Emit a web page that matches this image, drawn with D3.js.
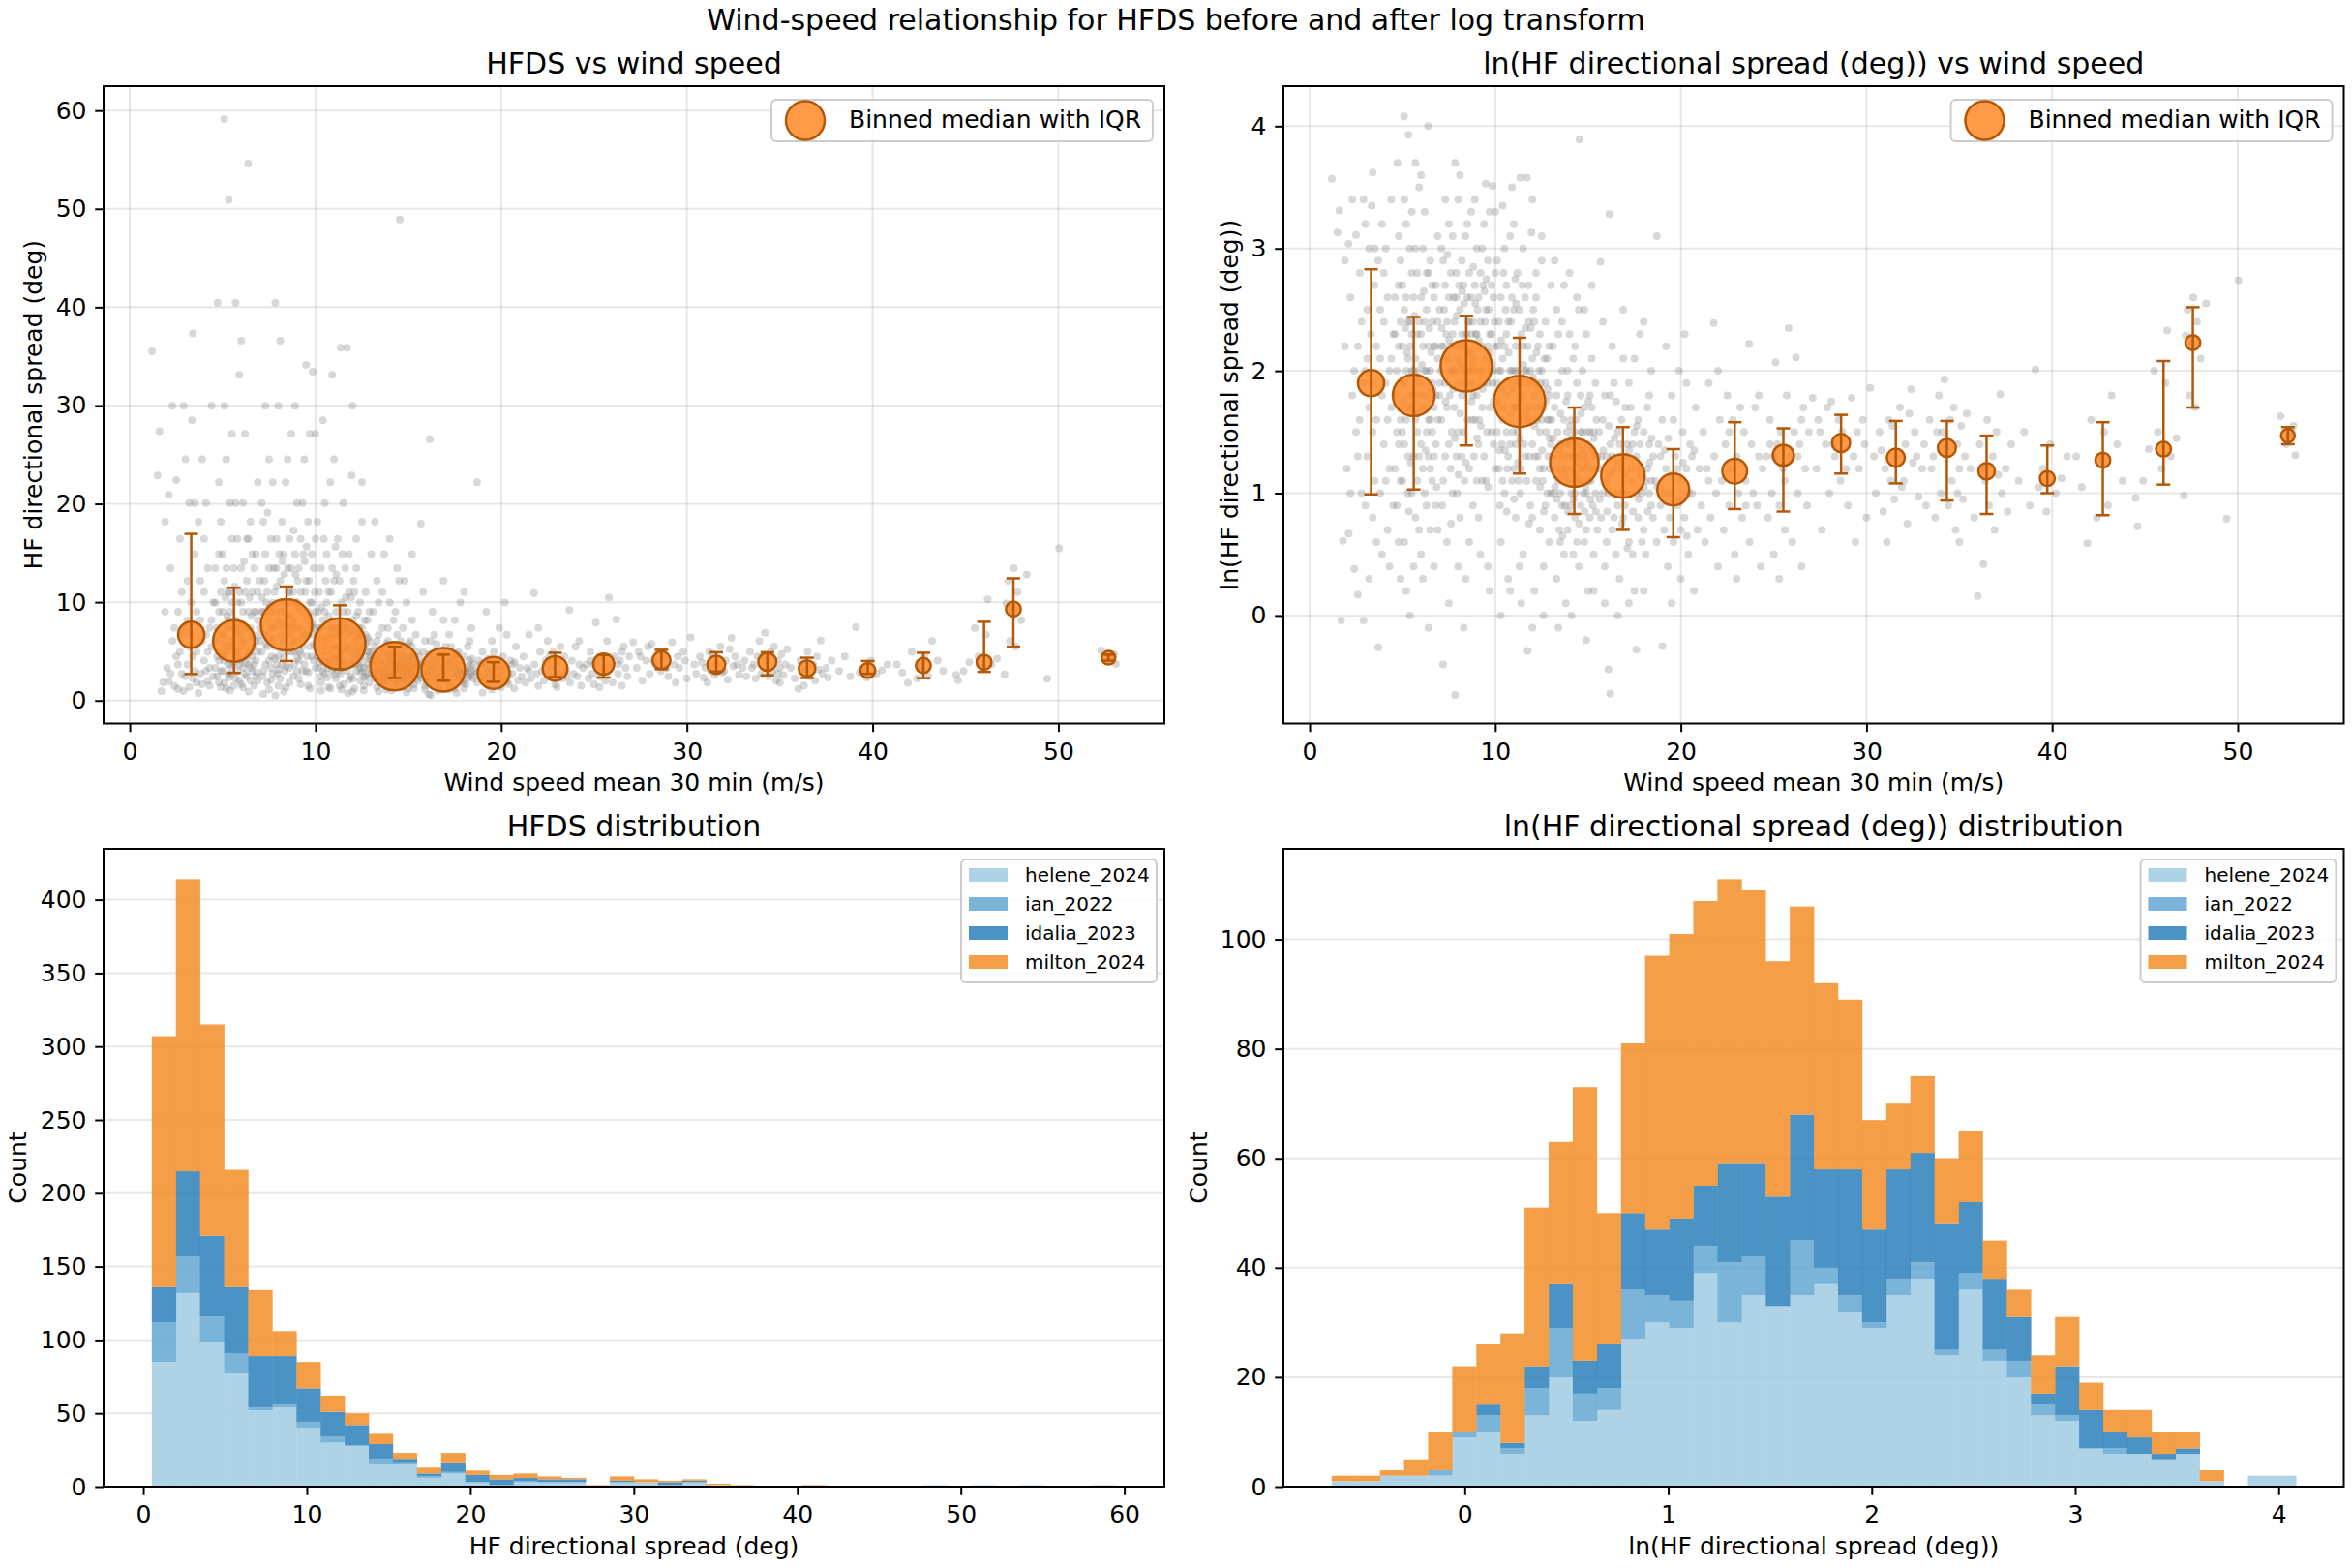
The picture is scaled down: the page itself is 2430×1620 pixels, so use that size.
<!DOCTYPE html>
<html>
<head>
<meta charset="utf-8">
<script src="https://cdn.jsdelivr.net/npm/d3@7"></script>
<style>
body { margin: 0; background: #fff; }
text { font-family: "DejaVu Sans", sans-serif; }
</style>
</head>
<body>
<div id="chart"></div>
<script>

// binned medians (in ln units)
var binWind   = [3.31, 5.61, 8.44, 11.31, 14.26, 16.88, 19.59, 22.90, 25.52, 28.63, 31.58, 34.33, 36.47, 39.74, 42.73, 46.0, 47.58, 52.7];
var binMedLn  = [1.90, 1.80, 2.04, 1.75, 1.25, 1.14, 1.03, 1.18, 1.31, 1.41, 1.29, 1.37, 1.18, 1.12, 1.27, 1.36, 2.23, 1.47];
var binLoLn   = [0.99, 1.03, 1.39, 1.16, 0.83, 0.70, 0.64, 0.87, 0.85, 1.16, 1.08, 0.94, 0.83, 1.00, 0.82, 1.07, 1.70, 1.40];
var binHiLn   = [2.83, 2.44, 2.45, 2.27, 1.70, 1.54, 1.36, 1.58, 1.53, 1.64, 1.59, 1.59, 1.47, 1.39, 1.58, 2.08, 2.52, 1.54];
var binCount  = [74, 216, 338, 338, 299, 238, 119, 64, 41, 25, 25, 25, 18, 11, 11, 11, 11, 6];

// scatter cloud: [wind speed, ln(spread)]
var cloudPoints = [
[1.2,3.57],[1.5,3.13],[1.6,3.31],[1.7,-0.04],[1.8,0.61],[1.9,2.9],[2.0,1.2],[2.1,0.67],[2.1,3.04],[2.2,2.6],[2.3,1.8],[2.4,0.38],[2.5,3.11],[2.5,1.5],[2.6,0.17],[2.6,2.2],[2.7,2.8],[2.8,1.0],[2.9,-0.04],[2.9,3.4],[3.0,2.0],[3.0,0.9],[3.1,2.5],[3.1,1.3],[3.2,3.0],[3.2,0.3],[3.3,1.9],[3.3,2.3],[3.35,3.35],[3.4,3.62],[3.4,0.8],[3.5,1.1],[3.5,2.7],[3.6,1.6],[3.7,-0.26],[3.7,2.9],[3.8,2.1],[3.8,1.0],[3.9,3.2],[3.9,0.5],[4.0,2.4],[4.0,1.4],[4.1,1.9],[4.1,3.0],[4.2,0.7],[4.2,2.6],[4.3,1.2],[4.3,2.0],[4.4,3.4],[4.4,1.7],[4.5,0.9],[4.5,2.3],[2.4,2.0],[2.7,1.6],[3.0,3.2],[3.6,2.2],[4.0,2.8],[2.2,1.0],[3.4,1.5],[3.8,2.5],[4.3,0.4],[2.8,2.4],[3.2,1.7],[3.6,0.6],[4.1,1.1],[1.9,2.2],[2.3,3.4],[2.6,1.3],[3.1,2.1],[3.9,1.8],[4.4,2.1],[3.5,3.0],[4.2,1.6],[2.9,1.9],
[4.6,1.8],[4.6,2.6],[4.7,0.9],[4.73,3.7],[4.8,1.4],[4.8,2.2],[4.9,0.3],[4.9,2.9],[5.0,1.1],[5.0,1.9],[5.09,4.08],[5.1,2.5],[5.1,0.6],[5.2,1.6],[5.2,3.2],[5.3,2.1],[5.33,3.93],[5.3,1.0],[5.4,2.4],[5.4,0.0],[5.5,1.7],[5.5,2.8],[5.6,1.3],[5.6,2.0],[5.7,3.0],[5.7,0.8],[5.8,2.3],[5.8,1.5],[5.9,3.5],[5.9,1.9],[6.0,0.5],[6.0,2.6],[6.1,1.2],[6.1,2.2],[6.2,1.8],[6.2,3.3],[6.3,0.9],[6.3,2.5],[6.38,4.0],[6.4,1.6],[6.4,-0.1],[6.5,2.0],[6.5,2.9],[6.6,1.1],[6.6,2.4],[6.7,0.4],[6.7,1.7],[6.8,2.7],[6.8,1.4],[6.9,2.1],[6.9,0.7],[7.0,1.9],[4.6,1.2],[4.7,2.0],[4.8,3.1],[4.9,1.6],[5.0,2.7],[5.1,1.4],[5.2,0.2],[5.3,2.4],[5.4,1.8],[5.5,1.0],[5.6,2.6],[5.7,1.6],[5.8,2.0],[5.9,0.7],[6.0,1.4],[6.1,3.0],[6.2,2.4],[6.3,1.5],[6.4,2.2],[6.5,1.2],[6.6,1.9],[6.7,2.6],[6.8,0.9],[6.9,2.4],[4.6,2.3],[4.8,0.6],[5.0,2.2],[5.2,2.0],[5.4,3.0],[5.6,0.4],[5.8,2.8],[6.0,1.8],[6.2,1.0],[6.4,2.8],[6.6,1.5],[6.8,2.2],[4.7,1.5],[4.9,2.4],[5.1,1.9],[5.3,1.3],[5.5,2.3],[5.7,2.1],[5.9,1.3],[6.1,1.7],[6.3,2.0],[6.5,0.7],[6.7,2.2],[6.9,1.6],[5.0,1.5],[5.5,2.0],[6.0,2.3],[6.5,1.6],[5.2,2.6],[5.8,1.1],[6.3,2.8],[6.8,1.8],[4.9,1.1],[5.4,2.2],[6.1,0.3],[6.6,2.7],[5.6,1.8],[6.2,2.0],[4.8,2.7],[5.9,2.4],[6.4,1.3],[5.3,1.7],[6.7,1.3],[5.1,3.4],[6.0,3.6],[5.7,3.7],[5.5,3.3],[6.9,3.1],
[5.05,1.75],[5.25,2.15],[5.45,1.25],[5.65,2.45],[5.85,1.65],[6.05,2.05],[6.25,1.35],[6.45,2.35],[6.65,1.85],[6.85,1.05],[5.15,2.35],[5.35,0.85],[5.75,1.95],[6.15,2.65],[6.55,2.15],
[7.0,2.5],[7.1,1.6],[7.1,3.0],[7.19,-0.4],[7.2,2.2],[7.2,1.1],[7.3,2.7],[7.3,1.9],[7.4,0.6],[7.4,2.4],[7.5,3.2],[7.5,1.4],[7.6,2.0],[7.6,2.8],[7.7,1.0],[7.7,2.3],[7.8,1.7],[7.84,3.7],[7.84,-0.65],[7.9,2.6],[7.9,1.3],[8.0,2.1],[8.0,3.4],[8.1,0.8],[8.1,2.5],[8.2,1.8],[8.2,2.9],[8.3,2.2],[8.3,1.5],[8.4,3.1],[8.4,0.3],[8.5,2.0],[8.5,2.6],[8.6,1.2],[8.6,2.4],[8.7,3.3],[8.7,1.9],[8.8,2.1],[8.8,0.9],[8.9,2.7],[8.9,1.6],[9.0,2.3],[9.0,3.0],[9.1,1.4],[9.1,2.0],[9.2,2.8],[9.2,0.5],[9.3,2.2],[9.3,1.7],[9.4,3.2],[9.49,3.53],[9.5,2.5],[9.5,1.1],[9.6,1.9],[9.6,2.9],[9.7,2.3],[9.7,0.2],[9.8,1.5],[9.85,3.51],[9.9,2.6],[9.9,2.0],[10.0,1.2],[10.0,2.8],
[7.0,1.8],[7.2,2.9],[7.4,1.7],[7.6,1.2],[7.8,2.4],[8.0,1.5],[8.2,2.3],[8.4,1.9],[8.6,2.8],[8.8,2.4],[9.0,1.8],[9.2,2.4],[9.4,1.3],[9.6,2.2],[9.8,2.7],[10.0,2.2],
[7.1,2.2],[7.3,1.3],[7.5,2.6],[7.7,2.0],[7.9,2.2],[8.1,1.9],[8.3,2.7],[8.5,1.6],[8.7,2.3],[8.9,2.0],[9.1,2.6],[9.3,1.1],[9.5,2.1],[9.7,1.7],[9.9,1.4],
[7.05,2.0],[7.25,2.5],[7.45,2.1],[7.65,1.5],[7.85,2.0],[8.05,2.7],[8.25,2.0],[8.45,2.3],[8.65,2.0],[8.85,1.3],[9.05,2.5],[9.25,2.0],[9.45,2.4],[9.65,2.5],[9.85,1.9],
[7.15,0.9],[7.35,2.3],[7.55,1.8],[7.75,2.6],[7.95,1.0],[8.15,2.2],[8.35,1.1],[8.55,2.4],[8.75,1.6],[8.95,2.3],[9.15,1.6],[9.35,2.7],[9.55,1.5],[9.75,2.0],[9.95,2.4],
[7.3,3.4],[7.7,3.1],[8.1,3.6],[8.5,3.2],[8.9,3.4],[9.3,3.0],[9.7,3.3],[7.5,0.1],[8.0,0.4],[8.6,0.6],[9.1,0.8],[9.6,0.4],[8.3,-0.1],[7.9,2.8],[8.7,2.6],[9.4,1.9],[8.2,1.3],[9.0,1.1],[7.6,2.2],[8.8,1.8],[9.8,2.3],
[7.12,2.35],[7.32,1.75],[7.52,2.25],[7.72,1.85],[7.92,2.45],[8.12,1.65],[8.32,2.55],[8.52,2.15],[8.72,1.75],[8.92,2.55],[9.12,2.25],[9.32,1.85],[9.52,2.75],[9.72,2.15],[9.92,1.75],[7.42,2.95],[7.82,1.45],[8.22,2.65],[8.62,2.15],[9.02,1.45],[9.42,2.65],[9.82,2.05],[8.42,1.25],[8.82,2.85],[9.22,1.55],[7.62,0.75],[8.02,1.15],[9.62,1.05],[8.18,2.05],[8.78,2.05],
[10.1,1.9],[10.1,2.9],[10.2,1.2],[10.2,2.4],[10.3,0.6],[10.3,2.0],[10.4,3.35],[10.4,1.6],[10.5,2.2],[10.5,1.0],[10.6,2.7],[10.6,1.8],[10.7,0.3],[10.7,2.4],[10.8,1.4],[10.8,3.1],[10.9,2.0],[10.9,1.1],[11.0,2.5],[11.0,1.7],[11.1,0.8],[11.1,2.2],[11.2,1.5],[11.2,2.8],[11.3,1.9],[11.35,3.58],[11.4,1.2],[11.4,2.3],[11.5,0.5],[11.5,1.8],[11.6,2.6],[11.6,1.3],[11.7,3.58],[11.7,2.0],[11.75,-0.29],[11.8,1.6],[11.8,2.4],[11.9,0.9],[11.95,3.13],[12.0,1.4],[12.0,2.1],[12.1,1.8],[12.1,0.2],[12.2,2.6],[12.2,1.1],[12.3,1.7],[12.3,2.2],[12.4,0.7],[12.4,1.5],[12.5,2.0],[12.5,2.9],[12.6,1.2],[12.6,0.4],[12.7,1.9],[12.7,2.4],[12.8,1.0],[12.8,1.6],[12.9,2.2],[12.9,0.6],[13.0,1.4],[13.0,2.7],
[10.1,1.5],[10.3,2.6],[10.5,1.7],[10.7,1.3],[10.9,2.6],[11.1,1.4],[11.3,2.5],[11.5,2.2],[11.7,1.1],[11.9,2.0],[12.1,2.4],[12.3,1.3],[12.5,1.6],[12.7,0.9],[12.9,1.8],
[10.2,2.0],[10.4,1.1],[10.6,2.3],[10.8,2.0],[11.0,1.2],[11.2,2.0],[11.4,1.6],[11.6,2.0],[11.8,1.9],[12.0,0.8],[12.2,1.9],[12.4,2.3],[12.6,1.7],[12.8,2.1],[13.0,1.0],
[10.15,2.2],[10.35,1.4],[10.55,2.5],[10.75,1.9],[10.95,1.5],[11.15,1.9],[11.35,1.0],[11.55,1.4],[11.75,2.2],[11.95,1.7],[12.15,1.3],[12.35,2.0],[12.55,1.1],[12.75,1.5],[12.95,1.2],
[10.25,0.9],[10.45,2.8],[10.65,1.2],[10.85,2.4],[11.05,2.0],[11.25,1.1],[11.45,2.7],[11.65,1.7],[11.85,1.3],[12.05,2.5],[12.25,1.6],[12.45,1.9],[12.65,2.1],[12.85,1.3],
[10.0,3.3],[10.5,3.0],[11.0,3.2],[11.5,3.0],[12.0,3.4],[12.5,3.1],[10.3,0.0],[10.8,0.2],[11.4,0.1],[12.0,-0.1],[12.6,0.0],[10.9,3.5],[11.3,0.4],[12.2,2.8],[10.6,1.5],[11.8,2.7],[12.4,1.2],[10.4,2.1],[11.1,1.7],[12.9,1.6],
[10.12,1.75],[10.32,2.25],[10.52,1.35],[10.72,2.15],[10.92,1.85],[11.12,2.55],[11.32,1.45],[11.52,2.05],[11.72,1.65],[11.92,2.35],[12.12,1.55],[12.32,1.85],[12.52,1.35],[12.72,1.75],[12.92,1.45],[10.42,1.85],[10.82,1.65],[11.22,1.25],[11.62,2.35],[12.02,1.95],[12.42,1.05],[12.82,1.85],[11.02,0.95],[11.82,0.75],[12.62,0.85],[10.62,0.85],[11.42,1.95],[12.22,2.15],[10.22,1.35],[11.08,2.75],
[13.1,1.3],[13.1,2.2],[13.2,0.8],[13.2,1.7],[13.3,0.3],[13.3,2.5],[13.4,1.1],[13.4,1.9],[13.5,0.6],[13.5,1.4],[13.6,2.0],[13.6,0.9],[13.7,1.6],[13.7,2.7],[13.8,1.2],[13.8,0.1],[13.9,1.8],[13.9,0.7],[14.0,1.4],[14.0,2.3],[14.1,1.0],[14.1,1.6],[14.2,0.5],[14.2,2.1],[14.3,1.3],[14.3,0.8],[14.4,1.9],[14.4,1.1],[14.5,2.5],[14.54,3.89],[14.5,0.4],[14.6,1.5],[14.6,0.9],[14.7,1.2],[14.7,2.0],[14.8,0.6],[14.8,1.7],[14.9,1.0],[14.9,2.3],[15.0,1.4],[15.0,0.2],[15.1,1.8],[15.1,0.8],[15.2,1.2],[15.2,2.1],[15.3,0.5],[15.3,1.5],[15.4,1.0],[15.4,1.9],[15.5,1.3],[15.5,0.7],
[13.15,1.0],[13.35,1.5],[13.55,1.2],[13.75,0.9],[13.95,1.3],[14.15,1.2],[14.35,1.6],[14.55,1.3],[14.75,1.0],[14.95,1.5],[15.15,1.1],[15.35,1.3],[13.25,1.2],[13.45,0.7],[13.65,1.3],[13.85,1.5],[14.05,0.9],[14.25,1.5],[14.45,1.4],[14.65,1.1],[14.85,1.3],[15.05,1.1],[15.25,0.9],[15.45,1.6],
[13.2,2.9],[13.6,2.4],[14.0,2.8],[14.4,2.6],[14.8,2.5],[15.2,2.7],[13.4,-0.1],[14.1,0.0],[14.9,-0.2],[15.3,0.2],[13.9,2.0],[14.6,1.8],[13.3,1.8],[15.1,1.5],[14.3,1.0],
[13.05,1.6],[13.5,1.0],[13.8,1.4],[14.2,1.3],[14.7,1.5],[15.0,1.2],[15.4,1.2],[13.7,0.5],[14.4,0.6],[14.9,0.7],[13.4,2.3],[14.3,2.2],[15.2,1.7],[13.9,1.1],[14.6,1.2],
[13.12,1.45],[13.32,0.95],[13.52,1.65],[13.72,1.15],[13.92,0.85],[14.12,1.45],[14.32,1.15],[14.52,0.75],[14.72,1.35],[14.92,1.25],[15.12,0.95],[15.32,1.45],[13.42,1.35],[13.82,1.75],[14.22,0.95],[14.62,1.65],[15.02,1.75],[15.42,0.85],[13.62,0.65],[14.02,1.55],[14.42,1.25],[14.82,0.85],[15.22,1.35],[13.22,1.05],[14.88,1.05],
[15.6,1.2],[15.67,2.89],[15.7,0.8],[15.8,1.6],[15.9,0.4],[16.0,1.1],[16.1,-0.44],[16.15,3.28],[16.2,-0.64],[16.2,1.4],[16.3,0.7],[16.4,1.9],[16.5,1.0],[16.6,1.5],[16.7,0.3],[16.8,1.2],[16.9,2.1],[17.0,0.9],[17.1,1.4],[17.2,0.6],[17.3,1.7],[17.4,1.1],[17.5,0.2],[17.6,-0.28],[17.6,1.3],[17.7,0.8],[17.8,2.3],[17.9,1.0],[18.0,1.5],[18.1,0.5],[18.2,1.2],[18.3,1.8],[18.4,0.9],[18.5,1.3],
[15.6,1.5],[15.8,1.0],[16.0,0.6],[16.2,1.8],[16.4,1.2],[16.6,0.9],[16.8,1.6],[17.0,1.3],[17.2,1.9],[17.4,0.5],[17.6,1.0],[17.8,1.4],[18.0,0.7],[18.2,1.7],[18.4,1.1],
[15.7,1.3],[15.9,1.8],[16.1,1.0],[16.3,1.3],[16.5,0.5],[16.7,1.4],[16.9,0.8],[17.1,1.0],[17.3,1.2],[17.5,1.5],[17.7,1.2],[17.9,0.6],[18.1,1.1],[18.3,1.0],[18.5,0.8],
[15.8,2.4],[16.3,2.2],[16.9,2.5],[17.5,2.1],[18.0,2.4],[18.4,2.0],[15.9,0.1],[16.6,0.0],[17.2,0.1],[18.0,0.2],[16.4,0.8],[17.0,1.7],[17.7,1.6],[18.3,1.4],[16.0,1.3],[16.8,1.0],[17.4,1.4],
[15.62,0.95],[15.82,1.35],[16.02,0.85],[16.22,1.15],[16.42,1.45],[16.62,1.25],[16.82,0.75],[17.02,1.15],[17.22,1.35],[17.42,0.85],[17.62,1.55],[17.82,1.15],[18.02,1.05],[18.22,0.85],[18.42,1.45],[16.12,1.55],[16.52,1.75],[17.12,0.55],[17.72,0.95],[18.32,1.25],
[18.6,1.1],[18.7,3.10],[18.7,0.6],[18.8,1.4],[18.9,0.9],[19.0,-0.25],[19.0,1.6],[19.1,0.7],[19.2,1.2],[19.3,0.4],[19.4,1.0],[19.5,1.8],[19.6,0.6],[19.7,1.3],[19.8,0.9],[19.9,2.0],[20.0,0.3],[20.0,1.1],[20.1,1.5],[20.2,0.8],[20.3,1.2],[20.4,0.5],[20.5,1.4],[20.6,1.0],[20.7,0.2],[20.8,1.7],[20.9,0.7],[21.0,1.2],[19.2,2.2],[19.6,1.6],[20.3,1.9],[18.9,1.3],[19.4,0.8],[20.0,0.7],[20.6,1.3],[19.1,1.0],[19.8,1.2],[20.4,1.0],[19.5,0.1],[20.2,2.3],
[18.72,1.05],[19.12,1.35],[19.52,1.15],[19.92,0.95],[20.32,0.65],[20.72,1.35],[19.32,1.45],[20.12,1.25],
[21.1,0.9],[21.2,1.5],[21.3,0.6],[21.4,1.2],[21.5,1.9],[21.6,0.8],[21.77,2.39],[21.8,1.3],[21.9,1.0],[22.0,0.4],[22.1,1.6],[22.2,1.1],[22.3,0.7],[22.4,1.4],[22.5,1.8],[22.6,0.9],[22.7,1.2],[22.8,1.6],[22.9,0.5],[23.0,1.3],[23.1,1.0],[23.2,1.7],[23.3,0.8],[23.4,1.5],[23.5,1.1],[23.67,2.22],[23.7,0.6],[23.8,1.4],[23.9,1.0],[24.0,1.7],[24.1,0.9],[24.2,1.3],[24.3,0.4],[24.4,1.2],[22.0,2.0],[23.0,0.3],[21.5,1.1],[22.6,1.5],[23.5,0.9],[24.2,1.8],
[24.6,1.3],[24.7,0.8],[24.8,1.6],[24.9,1.0],[25.0,0.5],[25.1,2.07],[25.2,1.4],[25.3,0.9],[25.4,1.5],[25.5,1.2],[25.6,0.7],[25.7,1.8],[25.8,2.35],[25.9,1.3],[26.0,0.6],[26.1,1.5],[26.2,2.11],[26.3,1.0],[26.4,1.4],[26.5,0.4],[26.6,1.7],[26.7,1.2],[26.8,0.9],[26.9,1.5],[25.0,1.3],[25.6,1.1],[26.3,1.3],[24.8,1.4],[26.5,1.6],[25.3,0.3],
[27.1,1.78],[27.3,1.2],[27.5,1.5],[27.6,0.7],[27.8,1.4],[28.0,1.0],[28.1,1.75],[28.3,1.3],[28.5,1.6],[28.6,1.1],[28.8,1.45],[29.0,0.9],[29.2,1.78],[29.3,1.3],[29.5,1.5],[29.6,1.2],[29.8,1.6],[30.0,0.8],[27.4,1.6],[28.2,1.4],[28.9,1.2],[29.4,0.6],[27.9,1.7],[28.7,1.5],[29.9,1.4],
[30.2,1.86],[30.4,1.3],[30.5,1.0],[30.7,1.5],[30.9,0.85],[31.0,1.2],[31.2,1.6],[31.3,1.1],[31.5,0.95],[31.6,1.3],[31.8,1.7],[31.9,1.05],[32.1,1.4],[32.2,0.75],[32.4,1.85],[32.5,1.25],[32.6,1.5],[32.8,0.97],[33.0,1.2],[30.8,1.35],[31.4,1.55],[32.0,1.1],[32.7,1.3],[31.1,0.6],[32.3,1.65],
[33.1,1.4],[33.2,0.9],[33.4,1.6],[33.5,1.2],[33.7,0.8],[33.8,1.5],[34.0,1.0],[34.2,1.93],[34.3,1.37],[34.4,0.9],[34.5,1.6],[34.6,1.1],[34.7,1.7],[34.8,0.7],[34.9,1.4],[35.0,1.2],[35.1,1.55],[35.2,0.95],[35.3,1.3],[35.4,1.65],[33.6,1.3],[34.1,1.5],[34.9,1.0],[33.9,1.8],[35.0,0.6],
[35.6,1.2],[35.8,0.8],[36.0,0.16],[36.1,1.4],[36.3,0.42],[36.4,1.1],[36.5,1.6],[36.6,0.9],[36.8,1.3],[36.9,0.7],[37.0,1.5],[37.2,1.81],[37.3,1.0],[37.5,1.2],[37.6,0.85],[37.8,1.4],[36.2,1.2],[37.1,1.15],
[38.2,1.1],[38.5,1.5],[38.8,0.9],[39.1,2.01],[39.3,1.05],[39.5,1.2],[39.7,0.85],[39.9,1.4],[40.2,1.0],[40.5,1.12],[40.8,1.3],
[41.3,1.3],[41.6,1.05],[41.9,0.59],[42.1,1.6],[42.4,0.8],[42.6,1.27],[42.8,1.5],[43.0,0.9],[43.2,1.80],[43.5,1.4],[43.8,1.1],
[44.5,0.96],[44.6,0.73],[44.9,1.1],[45.2,1.36],[45.5,2.0],[45.7,1.5],[45.9,1.2],[46.1,1.9],[46.2,2.33],[46.4,1.3],[46.7,1.45],
[47.1,0.98],[47.2,2.29],[47.3,2.5],[47.4,1.8],[47.5,2.23],[47.6,2.6],[47.7,1.7],[47.8,2.4],[48.0,2.1],[48.3,2.55],[49.4,0.79],
[52.3,1.63],[52.6,1.4],[52.8,1.47],[52.9,1.5],[53.0,1.55],[53.1,1.31],[50.04,2.74]
];

// stacked histograms, 40 equal bins each
var storms = ["helene_2024", "ian_2022", "idalia_2023", "milton_2024"];
var stormColors = ["#a1cbe2", "#63a7d2", "#2b7fbb", "#f38d28"];

var hfdsRange = [0.52, 59.5];
var hfdsHelene = [85,132,98,77,52,54,40,30,28,15,15,6,9,3,1,3,3,3,0,3,3,1,3,1,0,0,0,0,0,0,0,0,1,0,1,0,1,0,0,1];
var hfdsIan    = [27,25,18,14,2,2,4,4,0,4,1,1,1,0,0,1,0,0,0,0,0,0,0,0,0,0,0,0,0,0,0,0,0,0,0,0,0,0,0,0];
var hfdsIdalia = [24,58,55,45,35,33,23,17,14,10,3,2,6,5,4,2,2,2,0,1,0,2,1,0,0,0,0,0,0,0,0,0,0,0,0,0,0,0,0,0];
var hfdsMilton = [171,199,144,80,45,17,18,11,8,7,4,4,7,3,3,3,2,1,1,3,2,1,1,1,1,0,0,1,0,0,0,0,0,0,0,0,0,0,0,0];

var lnRange = [-0.654, 4.086];
var lnHelene = [1,1,2,2,2,9,10,6,13,20,12,14,27,30,29,39,30,35,33,35,37,32,29,35,38,24,36,23,20,13,12,7,6,6,5,6,1,0,2,2];
var lnIan    = [0,0,0,0,1,1,3,1,5,9,5,4,9,5,5,5,11,7,0,10,3,3,1,3,3,1,3,2,3,2,1,0,1,0,0,0,0,0,0,0];
var lnIdalia = [0,0,0,0,0,0,2,1,4,8,6,8,14,12,15,11,18,17,20,23,18,23,17,20,20,23,13,13,8,2,9,7,3,3,1,1,0,0,0,0];
var lnMilton = [1,1,1,3,7,12,11,20,29,26,50,24,31,50,52,52,52,50,43,38,34,31,20,12,14,12,13,7,5,7,9,5,4,5,4,3,2,0,0,0];


var W = 2430, H = 1620;
var FS = 25;      // 10pt
var FS_BIG = 30;  // 12pt
var TICK = 8.75;

var svg = d3.select("#chart").append("svg")
    .attr("width", W)
    .attr("height", H);
svg.append("rect").attr("width", W).attr("height", H).attr("fill", "white");

svg.append("text")
    .attr("x", W / 2).attr("y", 31)
    .attr("text-anchor", "middle")
    .attr("font-size", FS_BIG)
    .text("Wind-speed relationship for HFDS before and after log transform");

var boxes = {
    tl: {l: 107,  r: 1203,   t: 89,  b: 747.5},
    tr: {l: 1326, r: 2421.5, t: 89,  b: 747.5},
    bl: {l: 107,  r: 1203,   t: 877, b: 1536},
    br: {l: 1326, r: 2421.5, t: 877, b: 1536}
};

function drawFrame(box, x, y, xTicks, yTicks, gridX){
    let g = svg.append("g");
    let grid = g.append("g")
        .attr("stroke", "#b0b0b0")
        .attr("stroke-opacity", 0.3)
        .attr("stroke-width", 2);
    if (gridX){
        grid.selectAll(".gx").data(xTicks).enter().append("line")
            .attr("x1", d => x(d)).attr("x2", d => x(d))
            .attr("y1", box.t).attr("y2", box.b);
    }
    grid.selectAll(".gy").data(yTicks).enter().append("line")
        .attr("x1", box.l).attr("x2", box.r)
        .attr("y1", d => y(d)).attr("y2", d => y(d));
    return g;
}

function drawAxes(box, x, y, xTicks, yTicks, title, xlabel, ylabel, ylabelX){
    let xa = svg.append("g")
        .attr("transform", "translate(0," + box.b + ")")
        .call(d3.axisBottom(x).tickValues(xTicks).tickFormat(d3.format("d"))
              .tickSize(TICK).tickPadding(10.5));
    let ya = svg.append("g")
        .attr("transform", "translate(" + box.l + ",0)")
        .call(d3.axisLeft(y).tickValues(yTicks).tickFormat(d3.format("d"))
              .tickSize(TICK).tickPadding(8.75));
    [xa, ya].forEach(a => {
        a.select(".domain").remove();
        a.attr("font-size", FS).attr("font-family", "DejaVu Sans");
        a.selectAll("line").attr("stroke-width", 2).attr("stroke", "black");
        a.selectAll("text").attr("fill", "black");
    });
    svg.append("rect")
        .attr("x", box.l).attr("y", box.t)
        .attr("width", box.r - box.l).attr("height", box.b - box.t)
        .attr("fill", "none").attr("stroke", "black").attr("stroke-width", 2);
    svg.append("text")
        .attr("x", (box.l + box.r) / 2).attr("y", box.t - 13)
        .attr("text-anchor", "middle").attr("font-size", FS_BIG)
        .text(title);
    svg.append("text")
        .attr("x", (box.l + box.r) / 2).attr("y", box.b + 69.5)
        .attr("text-anchor", "middle").attr("font-size", FS)
        .text(xlabel);
    svg.append("text")
        .attr("transform", "translate(" + ylabelX + "," + ((box.t + box.b) / 2) + ") rotate(-90)")
        .attr("text-anchor", "middle").attr("font-size", FS)
        .text(ylabel);
}

var orangeFill = "#ff8a26", orangeEdge = "#b35806";

var areaScale = d3.scaleLinear().domain([0, 338]).range([150, 2810]);

function scatterPanel(box, yDomain, yTicks, toY, title, ylabel, ylabelX){
    let x = d3.scaleLinear().domain([-1.41, 55.71]).range([box.l, box.r]);
    let y = d3.scaleLinear().domain(yDomain).range([box.b, box.t]);
    let xTicks = [0, 10, 20, 30, 40, 50];
    let g = drawFrame(box, x, y, xTicks, yTicks, true);

    g.append("g").selectAll("circle")
        .data(cloudPoints)
        .enter()
        .append("circle")
        .attr("cx", d => x(d[0]))
        .attr("cy", d => y(toY(d[1])))
        .attr("r", 4)
        .attr("fill", "#808080")
        .attr("fill-opacity", 0.31);

    let bins = binWind.map((w, i) => ({
        w: w, med: toY(binMedLn[i]), lo: toY(binLoLn[i]), hi: toY(binHiLn[i]), n: binCount[i]
    }));

    g.append("g").selectAll("circle")
        .data(bins)
        .enter()
        .append("circle")
        .attr("cx", d => x(d.w))
        .attr("cy", d => y(d.med))
        .attr("r", d => Math.sqrt(areaScale(d.n)) / 2)
        .attr("fill", orangeFill)
        .attr("fill-opacity", 0.85)
        .attr("stroke", orangeEdge)
        .attr("stroke-width", 2.5);

    let eb = g.append("g").attr("stroke", orangeEdge).attr("stroke-width", 2.5);
    bins.forEach(d => {
        eb.append("line").attr("x1", x(d.w)).attr("x2", x(d.w))
            .attr("y1", y(d.lo)).attr("y2", y(d.hi));
        eb.append("line").attr("x1", x(d.w) - 7).attr("x2", x(d.w) + 7)
            .attr("y1", y(d.lo)).attr("y2", y(d.lo));
        eb.append("line").attr("x1", x(d.w) - 7).attr("x2", x(d.w) + 7)
            .attr("y1", y(d.hi)).attr("y2", y(d.hi));
    });

    // legend
    let lx = box.r - 406, ly = box.t + 14;
    svg.append("rect")
        .attr("x", lx).attr("y", ly).attr("width", 394).attr("height", 43)
        .attr("rx", 5)
        .attr("fill", "white").attr("fill-opacity", 0.8)
        .attr("stroke", "#cccccc").attr("stroke-width", 2);
    svg.append("circle")
        .attr("cx", lx + 35).attr("cy", ly + 21.5).attr("r", 20)
        .attr("fill", orangeFill).attr("fill-opacity", 0.85)
        .attr("stroke", orangeEdge).attr("stroke-width", 2.5);
    svg.append("text")
        .attr("x", lx + 80).attr("y", ly + 29)
        .attr("font-size", FS)
        .text("Binned median with IQR");

    drawAxes(box, x, y, xTicks, yTicks, title, "Wind speed mean 30 min (m/s)", ylabel, ylabelX);
}

function histPanel(box, range, xDomain, xTicks, yMax, yTicks, series, title, xlabel, ylabelX){
    let x = d3.scaleLinear().domain(xDomain).range([box.l, box.r]);
    let y = d3.scaleLinear().domain([0, yMax]).range([box.b, box.t]);
    let g = drawFrame(box, x, y, xTicks, yTicks, false);

    let nb = series[0].length;
    let bw = (range[1] - range[0]) / nb;
    let rows = d3.range(nb).map(i => {
        let r = {i: i};
        storms.forEach((s, k) => { r[s] = series[k][i]; });
        return r;
    });
    let stacked = d3.stack().keys(storms)(rows);

    stacked.forEach((layer, k) => {
        g.append("g").selectAll("rect")
            .data(layer.filter(d => d[1] > d[0]))
            .enter()
            .append("rect")
            .attr("x", d => x(range[0] + d.data.i * bw))
            .attr("width", d => x(range[0] + (d.data.i + 1) * bw) - x(range[0] + d.data.i * bw) + 0.3)
            .attr("y", d => y(d[1]))
            .attr("height", d => y(d[0]) - y(d[1]))
            .attr("fill", stormColors[k])
            .attr("fill-opacity", 0.85);
    });

    // legend
    let lx = box.r - 210, ly = box.t + 11;
    svg.append("rect")
        .attr("x", lx).attr("y", ly).attr("width", 202).attr("height", 127)
        .attr("rx", 5)
        .attr("fill", "white").attr("fill-opacity", 0.8)
        .attr("stroke", "#cccccc").attr("stroke-width", 2);
    storms.forEach((s, k) => {
        let cy = ly + 16 + k * 30;
        svg.append("rect")
            .attr("x", lx + 8).attr("y", cy - 7).attr("width", 40).attr("height", 14)
            .attr("fill", stormColors[k]).attr("fill-opacity", 0.85);
        svg.append("text")
            .attr("x", lx + 66).attr("y", cy + 7)
            .attr("font-size", 20)
            .text(s);
    });

    drawAxes(box, x, y, xTicks, yTicks, title, xlabel, "Count", ylabelX);
}

scatterPanel(boxes.tl, [-2.34, 62.48], [0, 10, 20, 30, 40, 50, 60], v => Math.exp(v),
    "HFDS vs wind speed", "HF directional spread (deg)", 43);
scatterPanel(boxes.tr, [-0.883, 4.327], [0, 1, 2, 3, 4], v => v,
    "ln(HF directional spread (deg)) vs wind speed", "ln(HF directional spread (deg))", 1279);

histPanel(boxes.bl, hfdsRange, [-2.43, 62.45], [0, 10, 20, 30, 40, 50, 60], 434.7,
    [0, 50, 100, 150, 200, 250, 300, 350, 400],
    [hfdsHelene, hfdsIan, hfdsIdalia, hfdsMilton],
    "HFDS distribution", "HF directional spread (deg)", 27);
histPanel(boxes.br, lnRange, [-0.891, 4.32], [0, 1, 2, 3, 4], 116.55,
    [0, 20, 40, 60, 80, 100],
    [lnHelene, lnIan, lnIdalia, lnMilton],
    "ln(HF directional spread (deg)) distribution", "ln(HF directional spread (deg))", 1247);

</script>
</body>
</html>
